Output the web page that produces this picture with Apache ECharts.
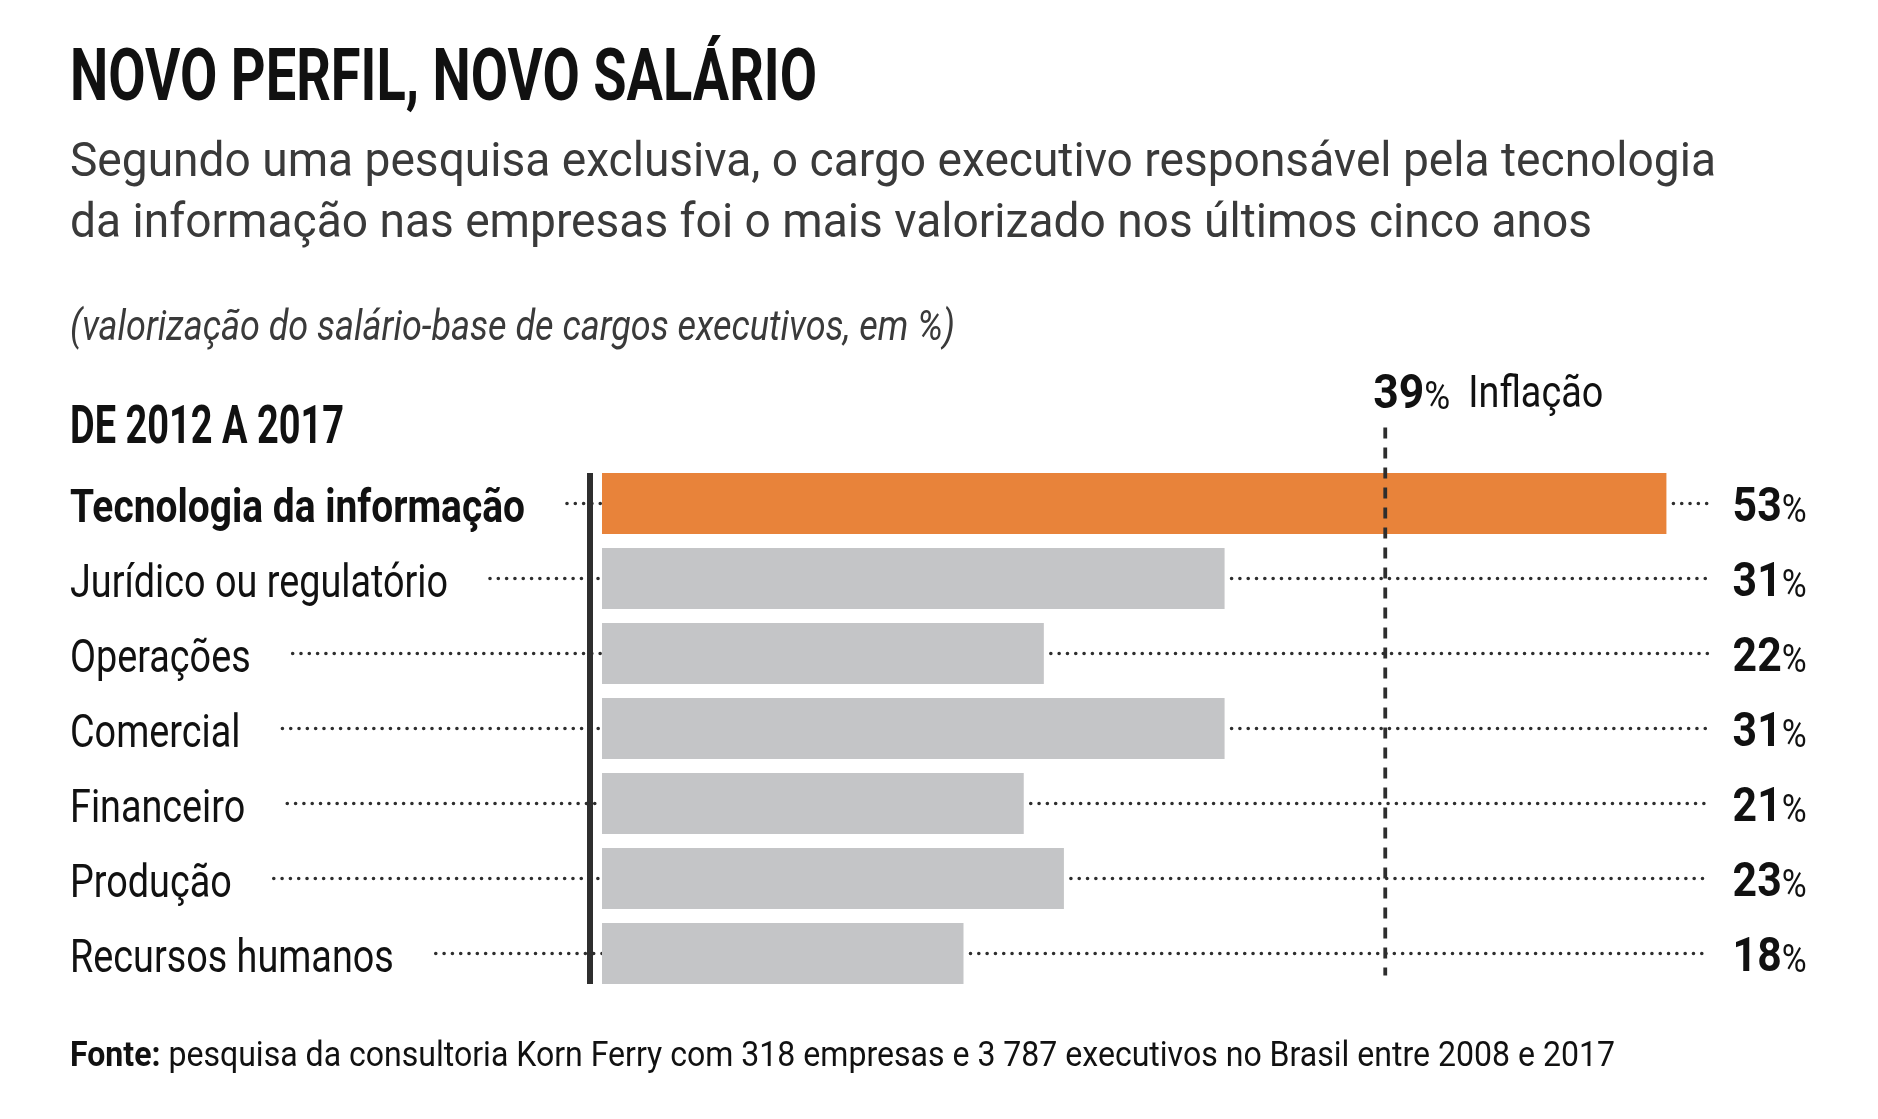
<!DOCTYPE html>
<html>
<head>
<meta charset="utf-8">
<title>Novo perfil, novo salário</title>
<script src="https://cdn.jsdelivr.net/npm/echarts@6/dist/echarts.min.js"></script>
<style>
  html, body { margin: 0; padding: 0; background: #fff; }
  #chart { width: 1878px; height: 1119px; }
</style>
</head>
<body>
<div id="chart"></div>
<script>
var categories = [
  'Tecnologia da informação',
  'Jurídico ou regulatório',
  'Operações',
  'Comercial',
  'Financeiro',
  'Produção',
  'Recursos humanos'
];
var values = [53, 31, 22, 31, 21, 23, 18];
var inflation = 39;
var highlight = 0;

var title = 'NOVO PERFIL, NOVO SALÁRIO';
var subtitle = [
  'Segundo uma pesquisa exclusiva, o cargo executivo responsável pela tecnologia',
  'da informação nas empresas foi o mais valorizado nos últimos cinco anos'
];
var note = '(valorização do salário-base de cargos executivos, em %)';
var period = 'DE 2012 A 2017';
var source = 'pesquisa da consultoria Korn Ferry com 318 empresas e 3 787 executivos no Brasil entre 2008 e 2017';

var family = 'Roboto';
var ink = '#111111';
var grey = '#3a3a3a';
var dark = '#2e2e2e';
var labelSize = 47;
var labelLeft = 70;
var leaderStop = 55.1;

// the reference uses a condensed face: measure with Roboto and squeeze horizontally
var ctx = document.createElement('canvas').getContext('2d');
function width(text, weight, size, style) {
  ctx.font = (style || 'normal') + ' ' + weight + ' ' + size + 'px ' + family;
  return ctx.measureText(text).width;
}

var titleScale = 747 / width(title, 'bold', 72);
var subScale = 1646 / width(subtitle[0], 'normal', 48);
var noteScale = 885 / width(note, 'normal', 42, 'italic');
var periodScale = 274 / width(period, 'bold', 53);
var sourceScale = 1545 / (width('Fonte: ', 'bold', 35) + width(source, 'normal', 35));
var boldLabelScale = 455 / width(categories[0], 'bold', labelSize);
var labelScale = 378 / width(categories[1], 'normal', labelSize);
var valueScale = 74 / (width('53', 'bold', 49) + width('%', 'normal', 39));
var inflScale = 77 / (width('39', 'bold', 49) + width('%', 'normal', 39));
var inflTextScale = 135 / width('Inflação', 'normal', 45);

function heading(text, y, size, weight, scale, color, style) {
  return {
    type: 'text',
    x: 70,
    y: y,
    scaleX: scale,
    style: {
      text: text,
      fontFamily: family,
      fontSize: size,
      fontWeight: weight,
      fontStyle: style || 'normal',
      fill: color,
      align: 'left',
      verticalAlign: 'middle'
    }
  };
}

var dots = {
  stroke: dark,
  lineWidth: 3.6,
  lineCap: 'round',
  lineDash: [0.01, 8.3]
};

var chart = echarts.init(document.getElementById('chart'), null, { renderer: 'canvas' });

chart.setOption({
  backgroundColor: '#ffffff',
  animation: false,
  graphic: [
    heading(title, 82, 72, 'bold', titleScale, ink),
    heading(subtitle[0], 164, 48, 'normal', subScale, grey),
    heading(subtitle[1], 225, 48, 'normal', subScale, grey),
    heading(note, 329, 42, 'normal', noteScale, grey, 'italic'),
    heading(period, 430, 53, 'bold', periodScale, ink),
    {
      type: 'text',
      x: 70,
      y: 1057,
      scaleX: sourceScale,
      style: {
        text: '{b|Fonte:} ' + source,
        fontFamily: family,
        fontSize: 35,
        fontWeight: 'normal',
        fill: ink,
        verticalAlign: 'middle',
        rich: { b: { fontFamily: family, fontSize: 35, fontWeight: 'bold', fill: ink } }
      }
    }
  ],
  grid: { left: 602, top: 466, height: 525, width: 1205 },
  xAxis: {
    type: 'value',
    min: 0,
    max: 60,
    show: false
  },
  yAxis: {
    type: 'category',
    data: categories,
    inverse: true,
    show: false
  },
  series: [{
    type: 'bar',
    data: values,
    barWidth: 61,
    z: 3,
    itemStyle: {
      color: function (p) {
        return p.dataIndex === highlight ? '#e8833a' : '#c4c5c7';
      }
    }
  }, {
    // category names, leaders and value labels
    type: 'custom',
    z: 2,
    silent: true,
    data: values.map(function (v, i) { return [v, i]; }),
    encode: { x: 0, y: 1 },
    renderItem: function (params, api) {
      var v = api.value(0);
      var i = api.value(1);
      var base = api.coord([0, i]);
      var y = base[1];
      var barEnd = api.coord([v, i])[0];
      var stop = api.coord([leaderStop, i])[0];
      var bold = i === highlight;
      var s = bold ? boldLabelScale : labelScale;
      var w = width(categories[i], bold ? 'bold' : 'normal', labelSize) * s;
      var numW = width(String(v), 'bold', 49) * valueScale;
      return {
        type: 'group',
        children: [{
          type: 'text',
          x: labelLeft,
          y: y + 7,
          scaleX: s,
          style: {
            text: categories[i],
            fontFamily: family,
            fontSize: labelSize,
            fontWeight: bold ? 'bold' : 'normal',
            fill: ink,
            verticalAlign: 'middle'
          }
        }, {
          type: 'line',
          shape: { x1: labelLeft + w + 42, y1: y, x2: base[0], y2: y },
          style: dots
        }, {
          type: 'line',
          shape: { x1: barEnd + 7, y1: y, x2: stop, y2: y },
          style: dots
        }, {
          type: 'text',
          x: stop + 24,
          y: y + 5,
          scaleX: valueScale,
          style: {
            text: String(v),
            fontFamily: family,
            fontSize: 49,
            fontWeight: 'bold',
            fill: ink,
            verticalAlign: 'middle'
          }
        }, {
          type: 'text',
          x: stop + 24 + numW,
          y: y + 5 + 0.355 * (49 - 39),
          scaleX: valueScale,
          style: {
            text: '%',
            fontFamily: family,
            fontSize: 39,
            fontWeight: 'normal',
            fill: ink,
            verticalAlign: 'middle'
          }
        }]
      };
    }
  }, {
    // value axis line and inflation marker
    type: 'custom',
    z: 4,
    silent: true,
    data: [[inflation, 0]],
    encode: { x: 0, y: 1 },
    renderItem: function (params, api) {
      var v = api.value(0);
      var first = api.coord([0, 0]);
      var last = api.coord([0, categories.length - 1]);
      var x = api.coord([v, 0])[0];
      var half = 30.5;
      var numW = width(String(v), 'bold', 49) * inflScale;
      var ty = first[1] - 108;
      return {
        type: 'group',
        children: [{
          type: 'line',
          shape: { x1: first[0] - 12, y1: first[1] - half, x2: first[0] - 12, y2: last[1] + half },
          style: { stroke: dark, lineWidth: 6 }
        }, {
          type: 'line',
          shape: { x1: x, y1: first[1] - 76, x2: x, y2: last[1] + 22 },
          style: { stroke: dark, lineWidth: 3.8, lineDash: [11, 9] }
        }, {
          type: 'text',
          x: x - 12,
          y: ty,
          scaleX: inflScale,
          style: {
            text: String(v),
            fontFamily: family,
            fontSize: 49,
            fontWeight: 'bold',
            fill: ink,
            verticalAlign: 'middle'
          }
        }, {
          type: 'text',
          x: x - 12 + numW,
          y: ty + 0.355 * (49 - 39),
          scaleX: inflScale,
          style: {
            text: '%',
            fontFamily: family,
            fontSize: 39,
            fontWeight: 'normal',
            fill: ink,
            verticalAlign: 'middle'
          }
        }, {
          type: 'text',
          x: x + 83,
          y: ty,
          scaleX: inflTextScale,
          style: {
            text: 'Inflação',
            fontFamily: family,
            fontSize: 45,
            fontWeight: 'normal',
            fill: ink,
            verticalAlign: 'middle'
          }
        }]
      };
    }
  }]
});
</script>
</body>
</html>
